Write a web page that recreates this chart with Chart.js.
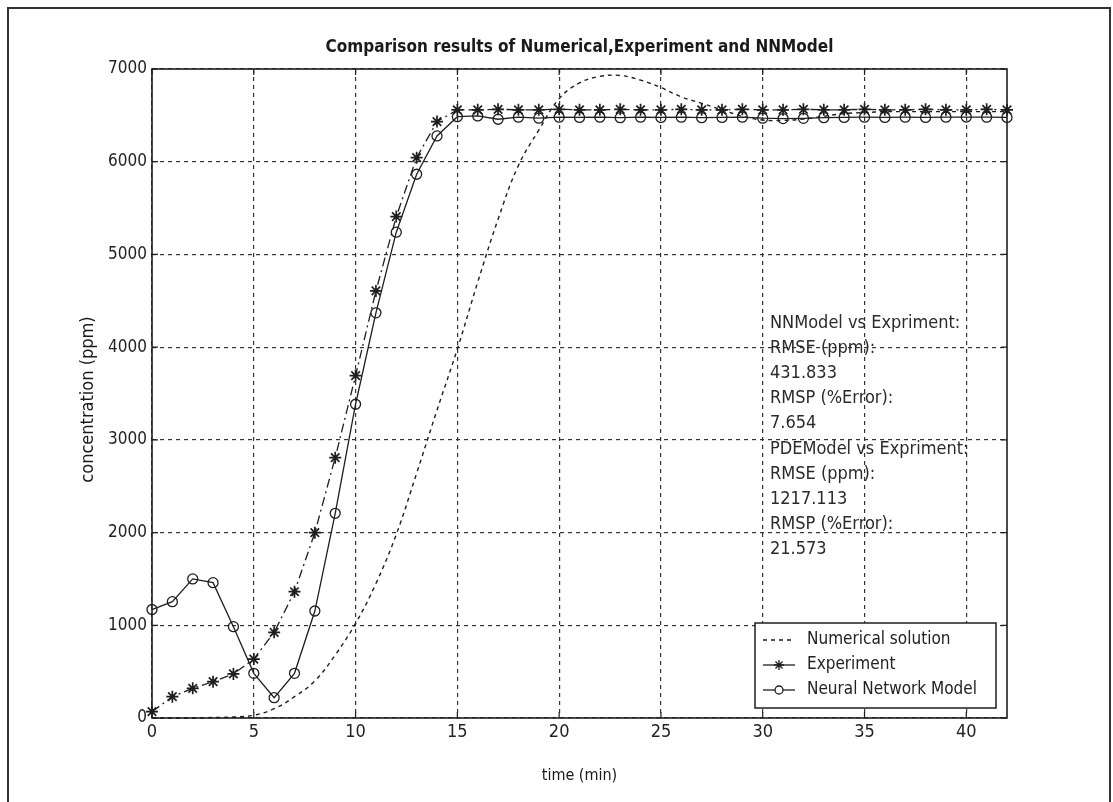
<!DOCTYPE html>
<html>
<head>
<meta charset="utf-8">
<script src="https://cdn.jsdelivr.net/npm/chart.js@4/dist/chart.umd.min.js"></script>
<style>
  body { margin: 0; background: #fff; }
  canvas { display: block; }
</style>
</head>
<body>
<canvas id="c" width="1113" height="802"></canvas>
<script>
'use strict'

// time (min)
const times = [0, 1, 2, 3, 4, 5, 6, 7, 8, 9, 10, 11, 12, 13, 14, 15, 16, 17, 18, 19, 20,
  21, 22, 23, 24, 25, 26, 27, 28, 29, 30, 31, 32, 33, 34, 35, 36, 37, 38, 39, 40, 41, 42];

// concentration (ppm)
const numerical = [0, 0, 0, 5, 10, 30, 100, 230, 400, 680, 1020, 1450, 1980, 2640, 3320, 3980,
  4700, 5380, 5960, 6340, 6680, 6850, 6920, 6930, 6880, 6800, 6700, 6630, 6560, 6490,
  6450, 6445, 6460, 6490, 6520, 6530, 6540, 6540, 6540, 6540, 6540, 6540, 6540];

const experiment = [68, 230, 320, 392, 475, 636, 924, 1362, 1999, 2808, 3693, 4606, 5408, 6044,
  6433, 6559, 6560, 6565, 6560, 6560, 6565, 6560, 6560, 6565, 6560, 6560, 6565, 6560, 6560,
  6565, 6560, 6560, 6565, 6560, 6560, 6565, 6560, 6560, 6565, 6560, 6560, 6565, 6560];

const nnModel = [1170, 1255, 1500, 1460, 985, 482, 219, 482, 1154, 2208, 3384, 4370, 5240, 5865,
  6278, 6486, 6494, 6458, 6480, 6470, 6480, 6478, 6480, 6475, 6480, 6478, 6480, 6475, 6478,
  6480, 6470, 6465, 6468, 6475, 6478, 6480, 6478, 6480, 6478, 6480, 6482, 6480, 6478];

const xTicks = [0, 5, 10, 15, 20, 25, 30, 35, 40];
const yTicks = [0, 1000, 2000, 3000, 4000, 5000, 6000, 7000];

const titleText = 'Comparison results of Numerical,Experiment and NNModel';
const xLabel = 'time (min)';
const yLabel = 'concentration (ppm)';
const notes = ['NNModel vs Expriment:', 'RMSE (ppm):', '431.833', 'RMSP (%Error):', '7.654',
  'PDEModel vs Expriment:', 'RMSE (ppm):', '1217.113', 'RMSP (%Error):', '21.573'];

const ink = '#1e1e1e';
const narrow = '"Liberation Sans Narrow", "DejaVu Sans Condensed", "Arial Narrow", sans-serif';

const pts = (ys) => times.map((t, i) => ({ x: t, y: ys[i] }));

const decorations = {
  id: 'decorations',
  afterDatasetsDraw(chart) {
    const { ctx, chartArea: a, scales } = chart;
    ctx.save();
    // axes box
    ctx.strokeStyle = ink;
    ctx.lineWidth = 1.6;
    ctx.setLineDash([]);
    ctx.strokeRect(a.left, a.top, a.right - a.left, a.bottom - a.top);
    // inward tick marks
    ctx.lineWidth = 1.2;
    ctx.beginPath();
    xTicks.forEach(v => {
      const x = scales.x.getPixelForValue(v);
      ctx.moveTo(x, a.bottom); ctx.lineTo(x, a.bottom - 6);
      ctx.moveTo(x, a.top); ctx.lineTo(x, a.top + 6);
    });
    yTicks.forEach(v => {
      const y = scales.y.getPixelForValue(v);
      ctx.moveTo(a.left, y); ctx.lineTo(a.left + 6, y);
      ctx.moveTo(a.right, y); ctx.lineTo(a.right - 6, y);
    });
    ctx.stroke();

    // statistics text
    ctx.fillStyle = '#2a2a2a';
    ctx.font = '18px ' + narrow;
    ctx.textAlign = 'left';
    ctx.textBaseline = 'middle';
    notes.forEach((s, i) => ctx.fillText(s, 770, 323 + i * 25.2));

    // legend
    const lx = 755, ly = 623, lw = 241, lh = 85;
    ctx.fillStyle = '#fff';
    ctx.fillRect(lx, ly, lw, lh);
    ctx.lineWidth = 1.5;
    ctx.strokeRect(lx, ly, lw, lh);
    ctx.font = '17px ' + narrow;
    ctx.fillStyle = '#222';
    chart.data.datasets.forEach((ds, i) => {
      const y = 640 + i * 25;
      ctx.strokeStyle = ink;
      ctx.lineWidth = 1.3;
      ctx.setLineDash(i === 0 ? [4, 4] : []);
      ctx.beginPath();
      ctx.moveTo(763, y); ctx.lineTo(795, y);
      ctx.stroke();
      ctx.setLineDash([]);
      if (i === 1) {
        ctx.beginPath();
        for (let k = 0; k < 4; k++) {
          const ang = k * Math.PI / 4;
          ctx.moveTo(779 - 5 * Math.cos(ang), y - 5 * Math.sin(ang));
          ctx.lineTo(779 + 5 * Math.cos(ang), y + 5 * Math.sin(ang));
        }
        ctx.stroke();
      } else if (i === 2) {
        ctx.fillStyle = '#fff';
        ctx.beginPath();
        ctx.arc(779, y, 4, 0, Math.PI * 2);
        ctx.fill();
        ctx.stroke();
        ctx.fillStyle = '#222';
      }
      ctx.fillText(ds.label, 807, y);
    });

    // title and axis labels
    ctx.fillStyle = '#1a1a1a';
    ctx.textAlign = 'center';
    ctx.font = 'bold 17px ' + narrow;
    ctx.fillText(titleText, (a.left + a.right) / 2, 48);
    ctx.font = '16px "DejaVu Sans Condensed", ' + narrow;
    ctx.fillText(xLabel, (a.left + a.right) / 2, 776);
    ctx.font = '18px "DejaVu Sans Condensed", ' + narrow;
    ctx.translate(88, (a.top + a.bottom) / 2 + 6);
    ctx.rotate(-Math.PI / 2);
    ctx.fillText(yLabel, 0, 0);
    ctx.restore();

    // outer frame of the figure
    ctx.save();
    ctx.strokeStyle = '#333';
    ctx.lineWidth = 2;
    ctx.strokeRect(8, 8, 1102, 810);
    ctx.restore();
  }
};

new Chart(document.getElementById('c'), {
  type: 'line',
  data: {
    datasets: [
      {
        label: 'Numerical solution',
        data: pts(numerical),
        borderColor: ink,
        borderWidth: 1.4,
        borderDash: [4, 4],
        pointRadius: 0,
        tension: 0.4,
        clip: false
      },
      {
        label: 'Experiment',
        data: pts(experiment),
        borderColor: ink,
        borderWidth: 1.3,
        borderDash: [9, 4, 2, 4],
        pointStyle: 'star',
        pointRadius: 6,
        pointBorderWidth: 1.7,
        pointBorderColor: ink,
        tension: 0,
        clip: false
      },
      {
        label: 'Neural Network Model',
        data: pts(nnModel),
        borderColor: ink,
        borderWidth: 1.3,
        pointStyle: 'circle',
        pointRadius: 5,
        pointBorderWidth: 1.3,
        pointBorderColor: ink,
        pointBackgroundColor: 'rgba(255,255,255,0)',
        tension: 0,
        clip: false
      }
    ]
  },
  options: {
    responsive: false,
    animation: false,
    events: [],
    layout: { padding: { top: 69, right: 106, left: 0, bottom: 0 } },
    plugins: {
      legend: { display: false },
      tooltip: { enabled: false },
      title: { display: false }
    },
    scales: {
      x: {
        type: 'linear',
        min: 0,
        max: 42,
        afterFit: (s) => { s.height = 84; },
        afterBuildTicks: (s) => { s.ticks = xTicks.map(v => ({ value: v })); },
        ticks: { padding: 4, color: '#222', font: { family: narrow, size: 18 }, callback: (v) => String(v) },
        grid: { color: '#333', lineWidth: 1.2, drawTicks: false },
        border: { display: false, dash: [4, 4] }
      },
      y: {
        type: 'linear',
        min: 0,
        max: 7000,
        afterFit: (s) => { s.width = 152; },
        afterBuildTicks: (s) => { s.ticks = yTicks.map(v => ({ value: v })); },
        ticks: { padding: 5, color: '#222', font: { family: narrow, size: 17 }, callback: (v) => String(v) },
        grid: { color: '#333', lineWidth: 1.2, drawTicks: false },
        border: { display: false, dash: [4, 4] }
      }
    }
  },
  plugins: [decorations]
});
</script>
</body>
</html>
